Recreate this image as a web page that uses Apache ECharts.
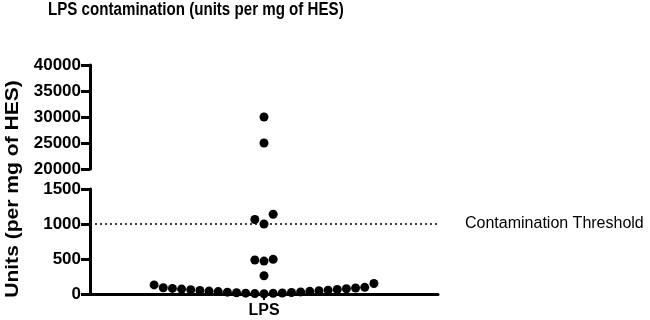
<!DOCTYPE html>
<html><head><meta charset="utf-8">
<script src="https://cdn.jsdelivr.net/npm/echarts@6/dist/echarts.min.js"></script>
<style>html,body{margin:0;padding:0;background:#fff}#c{width:650px;height:320px}</style>
</head><body><div id="c"></div>
<script>
// ---- data ----
const chartTitle = 'LPS contamination (units per mg of HES)';
const yAxisTitle = 'Units (per mg of HES)';
const category = 'LPS';
const lpsValues = [3, 6, 9, 12, 15, 18, 22, 26, 30, 34, 38, 42, 46, 50, 55, 60, 65, 70, 75, 80, 85, 90, 95, 130, 150,
                   260, 470, 485, 495, 1000, 1065, 1140, 25000, 30000];
const threshold = 1000;
const thresholdLabel = 'Contamination Threshold';
const upperRange = [20000, 40000];
const upperInterval = 5000;
const lowerRange = [0, 1500];
const lowerInterval = 500;

// ---- chart ----
const FONT = '"Liberation Sans", Arial, Helvetica, sans-serif';
const chart = echarts.init(document.getElementById('c'), null, {renderer: 'canvas'});
const axisLineStyle = {color: '#000', width: 3};
function yAxisCfg(gridIndex, range, interval) {
  return {
    type: 'value', gridIndex, min: range[0], max: range[1], interval,
    axisLine: {show: true, onZero: false, lineStyle: axisLineStyle},
    axisTick: {show: true, inside: false, length: 9, lineStyle: {color: '#000', width: 3}},
    axisLabel: {color: '#000', fontFamily: FONT, fontWeight: 'bold', fontSize: 17, margin: 9,
                formatter: v => String(v)},
    splitLine: {show: false}
  };
}
const XMIN = -19, XMAX = 19;
const option = {
  animation: false,
  backgroundColor: '#fff',
  graphic: [{
    type: 'text', x: 48, y: 10, scaleX: 0.84,
    style: {text: chartTitle, font: 'bold 18px ' + FONT, fill: '#000', align: 'left', verticalAlign: 'middle'}
  }, {
    type: 'text', x: 13, y: 189, rotation: Math.PI / 2, scaleX: 1.17,
    style: {text: yAxisTitle, font: 'bold 18px ' + FONT, fill: '#000', align: 'center', verticalAlign: 'middle'}
  }],
  grid: [
    {left: 90, top: 65, width: 348, height: 104},
    {left: 90, top: 189, width: 348, height: 105}
  ],
  xAxis: [
    {type: 'value', gridIndex: 0, min: XMIN, max: XMAX, show: false},
    {type: 'value', gridIndex: 1, min: XMIN, max: XMAX,
     axisLine: {show: true, onZero: false, lineStyle: axisLineStyle},
     axisTick: {show: true, customValues: [0], length: 6, lineStyle: {color: '#000', width: 2}},
     axisLabel: {show: true, customValues: [0], formatter: () => category, color: '#000',
                 fontFamily: FONT, fontWeight: 'bold', fontSize: 16, margin: 9},
     splitLine: {show: false}}
  ],
  yAxis: [yAxisCfg(0, upperRange, upperInterval), yAxisCfg(1, lowerRange, lowerInterval)],
  series: []
};
chart.setOption(option);

// beeswarm-style layout: group values into rows by pixel distance, spread alternately left/right
const DOT = 9, ROW_PX = 12;
function layout(vals, yAxisIndex) {
  const sorted = vals.slice().sort((a, b) => a - b);
  const out = [];
  let row = [];
  let rowStartPx = null;
  const flush = () => {
    row.forEach((v, k) => {
      const off = k === 0 ? 0 : (k % 2 === 1 ? -(k + 1) / 2 : k / 2);
      out.push([off, v]);
    });
    row = [];
  };
  sorted.forEach(v => {
    const py = chart.convertToPixel({yAxisIndex}, v);
    if (rowStartPx === null || Math.abs(rowStartPx - py) > ROW_PX) { flush(); rowStartPx = py; }
    row.push(v);
  });
  flush();
  return out;
}
const upperVals = lpsValues.filter(v => v >= upperRange[0]);
const lowerVals = lpsValues.filter(v => v < upperRange[0]);
const dotStyle = {color: '#000', opacity: 1};
chart.setOption({
  series: [
    {type: 'scatter', xAxisIndex: 0, yAxisIndex: 0, symbolSize: DOT, itemStyle: dotStyle,
     data: layout(upperVals, 0), z: 5},
    {type: 'scatter', xAxisIndex: 1, yAxisIndex: 1, symbolSize: DOT, itemStyle: dotStyle,
     data: layout(lowerVals, 1), z: 5,
     markLine: {
       silent: true, symbol: 'none', animation: false,
       lineStyle: {type: [2, 3], color: '#000', width: 1.5},
       label: {show: true, position: 'end', distance: 27, formatter: thresholdLabel,
               color: '#000', fontFamily: FONT, fontSize: 16, fontWeight: 'normal'},
       data: [{yAxis: threshold}]
     }}
  ]
});
</script>
</body></html>
